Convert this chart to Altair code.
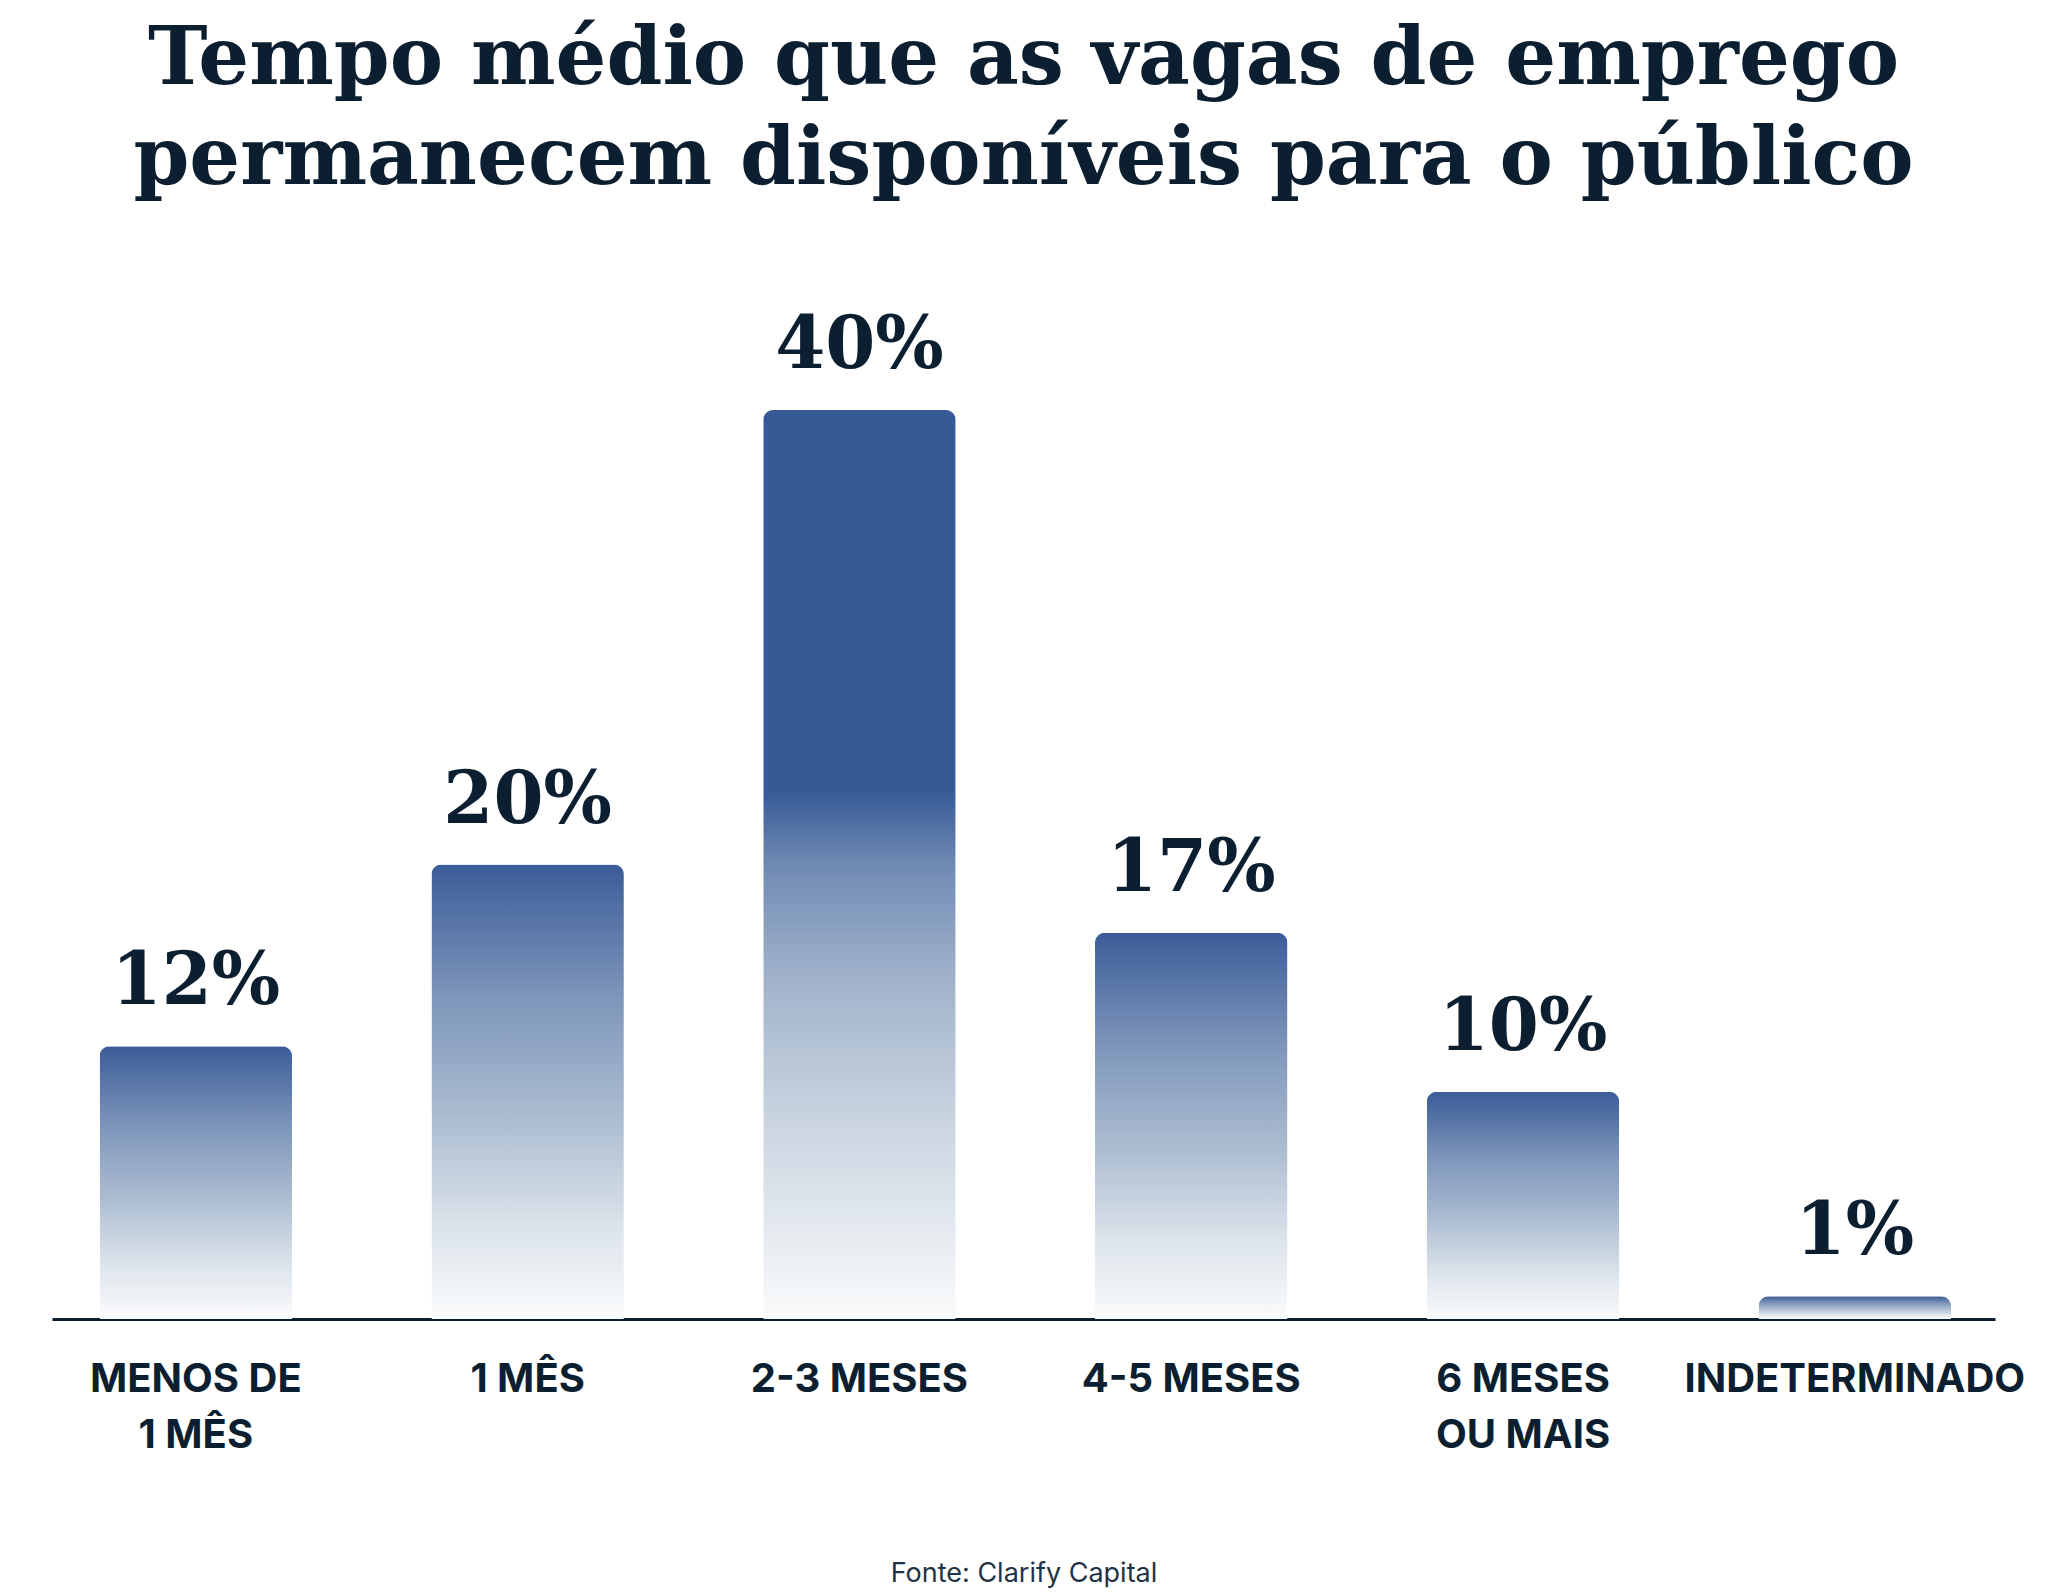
import altair as alt
import pandas as pd

# Dados
categorias = ["MENOS DE|1 MÊS", "1 MÊS", "2-3 MESES", "4-5 MESES", "6 MESES|OU MAIS", "INDETERMINADO"]
valores = [12, 20, 40, 17, 10, 1]
rotulos = [f"{v}%" for v in valores]

titulo = ["Tempo médio que as vagas de emprego", "permanecem disponíveis para o público"]
fonte = "Fonte: Clarify Capital"

df = pd.DataFrame({"categoria": categorias, "valor": valores, "rotulo": rotulos})

TEXT = "#0b1f30"
NAVY = "#375a96"

# Gradient for ordinary bars: dark at the top, fading to white at the base
fade = alt.Gradient(
    gradient="linear", x1=0, x2=0, y1=0, y2=1,
    stops=[
        alt.GradientStop(color="#3b5c98", offset=0),
        alt.GradientStop(color="#7f97bb", offset=0.3),
        alt.GradientStop(color="#b0c0d3", offset=0.58),
        alt.GradientStop(color="#dce4eb", offset=0.8),
        alt.GradientStop(color="#fafbfc", offset=1),
    ],
)

# Tallest bar keeps the solid colour for its top part
fade_tall = alt.Gradient(
    gradient="linear", x1=0, x2=0, y1=0, y2=1,
    stops=[
        alt.GradientStop(color=NAVY, offset=0),
        alt.GradientStop(color=NAVY, offset=0.42),
        alt.GradientStop(color="#6f8ab3", offset=0.5),
        alt.GradientStop(color="#9fb1ca", offset=0.62),
        alt.GradientStop(color="#c9d4e0", offset=0.78),
        alt.GradientStop(color="#fafbfc", offset=1),
    ],
)

base = alt.Chart(df).encode(
    x=alt.X(
        "categoria:N",
        sort=categorias,
        title=fonte,
        scale=alt.Scale(paddingInner=0.42, paddingOuter=0.138, align=0.52),
        axis=alt.Axis(
            labelExpr="split(datum.label, '|')",
            labelAngle=0,
            labelFont="Inter",
            labelFontSize=40,
            labelFontWeight="bold",
            labelColor=TEXT,
            labelPadding=40,
            labelLineHeight=56,
            labelLimit=0,
            labelOverlap=False,
            ticks=False,
            domainColor=TEXT,
            domainWidth=3,
            titleFont="Inter",
            titleFontSize=27,
            titleFontWeight="normal",
            titleColor="#1f3346",
            titleBaseline="alphabetic",
            titleY=262,
        ),
    ),
    y=alt.Y("valor:Q", scale=alt.Scale(domain=[0, 40], nice=False), axis=None),
)

bars = base.mark_bar(
    color=fade, cornerRadiusTopLeft=10, cornerRadiusTopRight=10
).transform_filter(alt.datum.valor < 30)

bars_tall = base.mark_bar(
    color=fade_tall, cornerRadiusTopLeft=10, cornerRadiusTopRight=10
).transform_filter(alt.datum.valor >= 30)

labels = base.mark_text(
    font="DejaVu Serif",
    fontSize=72,
    fontWeight="bold",
    baseline="alphabetic",
    dy=-42,
    color=TEXT,
).encode(text="rotulo:N")

chart = alt.layer(bars, bars_tall, labels).properties(
    width=1943,
    height=909,
    background="white",
    autosize=alt.AutoSizeParams(type="none"),
    padding={"left": 44, "top": 402, "right": 40, "bottom": 269},
    title=alt.TitleParams(
        text=titulo,
        font="DejaVu Serif",
        fontSize=80,
        fontWeight="bold",
        color=TEXT,
        anchor="middle",
        frame="group",
        lineHeight=100,
        offset=109,
    ),
).configure_view(stroke=None, strokeWidth=0)

chart.save("out.html", embed_options={"renderer": "svg", "actions": False})
